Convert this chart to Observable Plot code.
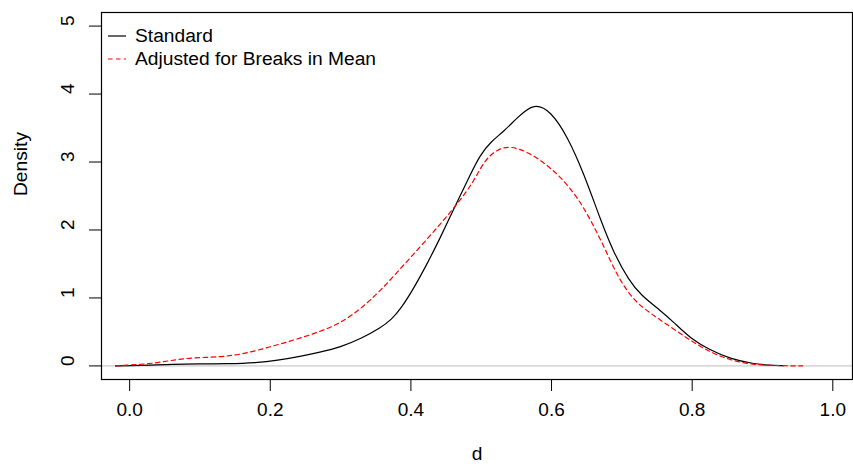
<!DOCTYPE html>
<html>
<head>
<meta charset="utf-8">
<script src="https://cdn.jsdelivr.net/npm/d3@7"></script>
<script src="https://cdn.jsdelivr.net/npm/@observablehq/plot@0.6"></script>
<style>
  html, body { margin: 0; padding: 0; background: #fff; }
  #wrap { position: relative; width: 853px; height: 468px; font-family: "Liberation Sans", Arial, Helvetica, sans-serif; }
  #legend { position: absolute; left: 108px; top: 24px; font-size: 19.2px; color: #000; }
  #legend .row { display: flex; align-items: center; height: 23px; }
  #legend svg { margin-right: 9px; }
</style>
</head>
<body>
<div id="wrap"></div>
<script>
// Standard density
const xStd = [-0.02, 0.0, 0.03, 0.06, 0.10, 0.14, 0.18, 0.21, 0.243, 0.27, 0.30, 0.329, 0.357, 0.372, 0.385, 0.404, 0.423, 0.442, 0.461, 0.48, 0.499, 0.514, 0.532, 0.552, 0.575, 0.599, 0.623, 0.646, 0.67, 0.689, 0.71, 0.727, 0.755, 0.774, 0.798, 0.826, 0.855, 0.888, 0.907, 0.93];
const yStd = [0, 0.003, 0.012, 0.025, 0.03, 0.03, 0.045, 0.08, 0.14, 0.2, 0.275, 0.40, 0.56, 0.68, 0.83, 1.14, 1.50, 1.89, 2.31, 2.72, 3.12, 3.30, 3.45, 3.66, 3.87, 3.75, 3.37, 2.83, 2.14, 1.65, 1.26, 1.04, 0.815, 0.64, 0.40, 0.23, 0.10, 0.03, 0.012, 0.002];
// Adjusted for Breaks in Mean
const xAdj = [-0.02, 0.03, 0.058, 0.087, 0.129, 0.158, 0.186, 0.215, 0.243, 0.272, 0.30, 0.329, 0.357, 0.385, 0.414, 0.442, 0.466, 0.49, 0.504, 0.523, 0.542, 0.57, 0.594, 0.613, 0.637, 0.656, 0.675, 0.694, 0.717, 0.741, 0.77, 0.798, 0.826, 0.855, 0.888, 0.926, 0.957];
const yAdj = [0, 0.03, 0.08, 0.12, 0.13, 0.17, 0.24, 0.325, 0.41, 0.51, 0.63, 0.84, 1.11, 1.43, 1.76, 2.09, 2.38, 2.72, 3.02, 3.19, 3.24, 3.13, 2.95, 2.78, 2.48, 2.14, 1.75, 1.31, 0.96, 0.77, 0.57, 0.37, 0.20, 0.08, 0.015, 0.003, 0];

const xTicks = [0, 0.2, 0.4, 0.6, 0.8, 1.0];
const yTicks = [0, 1, 2, 3, 4, 5];
const seriesNames = ["Standard", "Adjusted for Breaks in Mean"];
const xLabel = "d";
const yLabel = "Density";

const std = xStd.map((x, i) => ({x, y: yStd[i]}));
const adj = xAdj.map((x, i) => ({x, y: yAdj[i]}));

const fs = 19;
const chart = Plot.plot({
  width: 853,
  height: 468,
  marginLeft: 101,
  marginRight: 1,
  marginTop: 12,
  marginBottom: 89,
  style: {fontFamily: '"Liberation Sans", Arial, Helvetica, sans-serif', fontSize: fs + "px", background: "#fff", color: "#000"},
  x: {domain: [-0.04, 1.028]},
  y: {domain: [-0.2, 5.2]},
  marks: [
    Plot.ruleY([0], {stroke: "#BEBEBE", strokeWidth: 1}),
    Plot.line(std, {x: "x", y: "y", stroke: "#000", strokeWidth: 1.2, curve: "basis"}),
    Plot.line(adj, {x: "x", y: "y", stroke: "#FF0000", strokeWidth: 1.2, strokeDasharray: "4.5,3.5", curve: "basis"}),
    Plot.axisX({ticks: xTicks, tickSize: 12, tickFormat: () => "", label: null, strokeWidth: 1}),
    Plot.axisY({ticks: yTicks, tickSize: 12, tickFormat: () => "", label: null, strokeWidth: 1}),
    Plot.text(xTicks, {x: d => d, text: d => d3.format(".1f")(d), frameAnchor: "bottom", dy: 36, fontSize: fs}),
    Plot.text(yTicks, {y: d => d, text: d => String(d), frameAnchor: "left", dx: -34, rotate: -90, fontSize: fs}),
    Plot.text([xLabel], {text: d => d, frameAnchor: "bottom", dy: 80, fontSize: 19.2}),
    Plot.text([yLabel], {text: d => d, frameAnchor: "left", dx: -81, rotate: -90, fontSize: 19.2}),
    Plot.frame({stroke: "#000", strokeWidth: 1.2})
  ]
});
const wrap = document.getElementById("wrap");
wrap.appendChild(chart);

const legend = document.createElement("div");
legend.id = "legend";
const legendStyles = [{stroke: "#000", dash: null}, {stroke: "#FF0000", dash: "4.5,3.5"}];
seriesNames.forEach((name, i) => {
  const row = document.createElement("div");
  row.className = "row";
  const st = legendStyles[i];
  row.innerHTML = `<svg width="18" height="4"><line x1="0" x2="18" y1="2" y2="2" stroke="${st.stroke}" stroke-width="1.2" ${st.dash ? `stroke-dasharray="${st.dash}"` : ""}/></svg><span>${name}</span>`;
  legend.appendChild(row);
});
wrap.appendChild(legend);
</script>
</body>
</html>
